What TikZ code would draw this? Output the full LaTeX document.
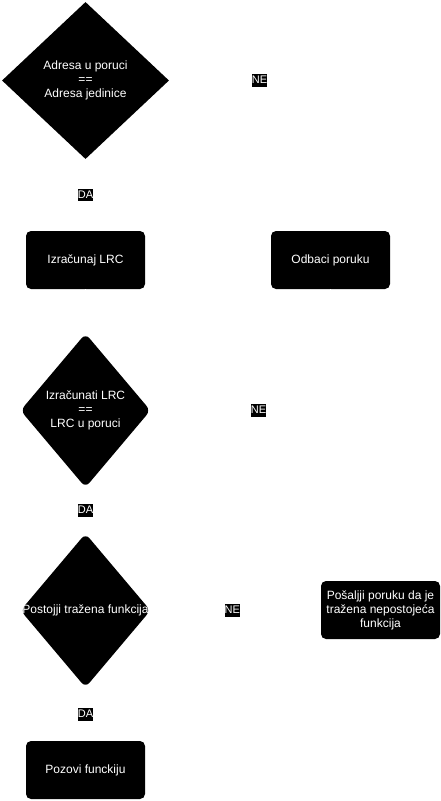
\documentclass[tikz,border=0pt]{standalone}
\usepackage{fontspec}
\setmainfont{Liberation Sans}
\usetikzlibrary{shapes.geometric}
\newcommand{\ztext}[1]{\makebox[0pt]{\begin{tabular}{@{}c@{}}#1\end{tabular}}}
\tikzset{
  decision/.style={diamond, fill=black, text=white, inner sep=0pt, minimum width=130pt, minimum height=154pt},
  process/.style={rectangle, fill=black, text=white, rounded corners=5pt, minimum width=119pt, minimum height=58pt, align=center},
  answer/.style={fill=black, text=white, inner sep=0pt, text height=9.5pt, text depth=3pt, font=\fontsize{11}{13}\selectfont},
  link/.style={draw=white}
}
\begin{document}
\begin{tikzpicture}[x=1pt, y=-1pt, font=\fontsize{12}{14}\selectfont]
\useasboundingbox (0,0) rectangle (441,801);
\node[decision, minimum width=167pt, minimum height=157pt](adr) at (85.5,80.5){\ztext{Adresa u poruci\\==\\Adresa jedinice}};
\node[process](izr) at (85.5,260){Izračunaj LRC};
\node[process](odb) at (330.5,260){Odbaci poruku};
\node[decision, rounded corners=6pt](lrc) at (85.5,410.5){\ztext{Izračunati LRC\\==\\LRC u poruci}};
\node[decision, rounded corners=6pt](fun) at (85.5,610.5){\ztext{Postojji tražena funkcija}};
\node[process](pos) at (380.5,610){Pošaljji poruku da je\\tražena nepostojeća\\funkcija};
\node[process](poz) at (85.5,770){Pozovi funckiju};

\draw[link](adr.south)--node[answer]{DA}(izr.north);
\draw[link](adr.east)-|node[answer, pos=0.28]{NE}(odb.north);
\draw[link](izr.south)--(lrc.north);
\draw[link](lrc.east)-|node[answer, pos=0.3]{NE}(odb.south);
\draw[link](lrc.south)--node[answer]{DA}(fun.north);
\draw[link](fun.east)--node[answer, pos=0.48]{NE}(pos.west);
\draw[link](fun.south)--node[answer]{DA}(poz.north);
\end{tikzpicture}
\end{document}
